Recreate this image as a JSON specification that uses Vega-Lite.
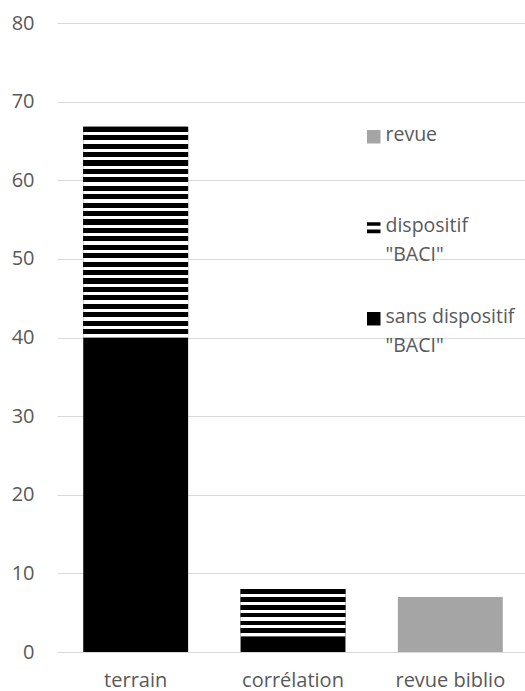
{
  "$schema": "https://vega.github.io/schema/vega-lite/v6.json",
  "autosize": {"type": "none"},
  "padding": {"left": 57, "top": 23, "right": 0, "bottom": 39},
  "width": 472,
  "height": 629,
  "data": {
    "values": [
      {"cat": "terrain", "type": "sans dispositif \"BACI\"", "value": 40},
      {"cat": "terrain", "type": "dispositif \"BACI\"", "value": 26.8},
      {"cat": "corrélation", "type": "sans dispositif \"BACI\"", "value": 2},
      {"cat": "corrélation", "type": "dispositif \"BACI\"", "value": 6},
      {"cat": "revue biblio", "type": "revue", "value": 7}
    ]
  },
  "transform": [
    {"stack": "value", "groupby": ["cat"], "sort": [{"field": "type", "order": "descending"}], "as": ["v0", "v1"]}
  ],
  "encoding": {
    "x": {
      "field": "cat", "type": "nominal",
      "sort": ["terrain", "corrélation", "revue biblio"],
      "scale": {"paddingInner": 0.3333, "paddingOuter": 0.1667},
      "axis": {"title": null, "labelAngle": 0, "ticks": false, "domain": true, "domainColor": "#d9d9d9", "labelPadding": 18, "labelFont": "Open Sans", "labelFontSize": 20, "labelColor": "#595959"}
    },
    "y": {
      "field": "v1", "type": "quantitative",
      "scale": {"domain": [0, 80], "nice": false},
      "axis": {"title": null, "values": [0, 10, 20, 30, 40, 50, 60, 70, 80], "ticks": false, "domain": false, "gridColor": "#d9d9d9", "labelPadding": 23, "labelFont": "Open Sans", "labelFontSize": 20, "labelColor": "#595959"}
    },
    "y2": {"field": "v0"}
  },
  "layer": [
    {
      "mark": {"type": "bar"},
      "encoding": {
        "color": {
          "field": "type", "type": "nominal",
          "scale": {"domain": ["revue", "dispositif \"BACI\"", "sans dispositif \"BACI\""], "range": ["#a5a5a5", "#000000", "#000000"]},
          "legend": {
            "title": null,
            "orient": "none",
            "legendX": 307,
            "legendY": 104,
            "padding": 0,
            "symbolSize": 182,
            "symbolStrokeWidth": 0,
            "labelFont": "Open Sans",
            "labelFontSize": 19.5,
            "labelColor": "#595959",
            "labelOffset": 2,
            "labelLimit": 300,
            "labelBaseline": "top",
            "gridAlign": "all",
            "rowPadding": 41,
            "labelExpr": "indexof(datum.label, 'BACI') > 0 ? [slice(datum.label, 0, lastindexof(datum.label, ' ')), slice(datum.label, lastindexof(datum.label, ' ') + 1)] : datum.label",
            "encode": {
              "symbols": {"update": {"shape": {"signal": "datum.value === 'dispositif \"BACI\"' ? 'M-1,-0.8H1V-0.3H-1Z M-1,0.25H1V0.8H-1Z' : 'square'"}}},
              "labels": {"update": {"dy": {"value": -11}, "lineHeight": {"value": 29}}}
            }
          }
        }
      }
    },
    {
      "transform": [{"filter": "datum.cat === 'terrain' && datum.type === 'dispositif \"BACI\"'"}],
      "mark": {
        "type": "bar",
        "fill": {
          "gradient": "linear", "x1": 0, "y1": 0, "x2": 0, "y2": 1,
          "stops": [
            {"offset": 0, "color": "#000000"}, {"offset": 0.024, "color": "#000000"}, {"offset": 0.024, "color": "#ffffff"}, {"offset": 0.04, "color": "#ffffff"},
            {"offset": 0.04, "color": "#000000"}, {"offset": 0.064, "color": "#000000"}, {"offset": 0.064, "color": "#ffffff"}, {"offset": 0.08, "color": "#ffffff"},
            {"offset": 0.08, "color": "#000000"}, {"offset": 0.104, "color": "#000000"}, {"offset": 0.104, "color": "#ffffff"}, {"offset": 0.12, "color": "#ffffff"},
            {"offset": 0.12, "color": "#000000"}, {"offset": 0.144, "color": "#000000"}, {"offset": 0.144, "color": "#ffffff"}, {"offset": 0.16, "color": "#ffffff"},
            {"offset": 0.16, "color": "#000000"}, {"offset": 0.184, "color": "#000000"}, {"offset": 0.184, "color": "#ffffff"}, {"offset": 0.2, "color": "#ffffff"},
            {"offset": 0.2, "color": "#000000"}, {"offset": 0.224, "color": "#000000"}, {"offset": 0.224, "color": "#ffffff"}, {"offset": 0.24, "color": "#ffffff"},
            {"offset": 0.24, "color": "#000000"}, {"offset": 0.264, "color": "#000000"}, {"offset": 0.264, "color": "#ffffff"}, {"offset": 0.28, "color": "#ffffff"},
            {"offset": 0.28, "color": "#000000"}, {"offset": 0.304, "color": "#000000"}, {"offset": 0.304, "color": "#ffffff"}, {"offset": 0.32, "color": "#ffffff"},
            {"offset": 0.32, "color": "#000000"}, {"offset": 0.344, "color": "#000000"}, {"offset": 0.344, "color": "#ffffff"}, {"offset": 0.36, "color": "#ffffff"},
            {"offset": 0.36, "color": "#000000"}, {"offset": 0.384, "color": "#000000"}, {"offset": 0.384, "color": "#ffffff"}, {"offset": 0.4, "color": "#ffffff"},
            {"offset": 0.4, "color": "#000000"}, {"offset": 0.424, "color": "#000000"}, {"offset": 0.424, "color": "#ffffff"}, {"offset": 0.44, "color": "#ffffff"},
            {"offset": 0.44, "color": "#000000"}, {"offset": 0.464, "color": "#000000"}, {"offset": 0.464, "color": "#ffffff"}, {"offset": 0.48, "color": "#ffffff"},
            {"offset": 0.48, "color": "#000000"}, {"offset": 0.504, "color": "#000000"}, {"offset": 0.504, "color": "#ffffff"}, {"offset": 0.52, "color": "#ffffff"},
            {"offset": 0.52, "color": "#000000"}, {"offset": 0.544, "color": "#000000"}, {"offset": 0.544, "color": "#ffffff"}, {"offset": 0.56, "color": "#ffffff"},
            {"offset": 0.56, "color": "#000000"}, {"offset": 0.584, "color": "#000000"}, {"offset": 0.584, "color": "#ffffff"}, {"offset": 0.6, "color": "#ffffff"},
            {"offset": 0.6, "color": "#000000"}, {"offset": 0.624, "color": "#000000"}, {"offset": 0.624, "color": "#ffffff"}, {"offset": 0.64, "color": "#ffffff"},
            {"offset": 0.64, "color": "#000000"}, {"offset": 0.664, "color": "#000000"}, {"offset": 0.664, "color": "#ffffff"}, {"offset": 0.68, "color": "#ffffff"},
            {"offset": 0.68, "color": "#000000"}, {"offset": 0.704, "color": "#000000"}, {"offset": 0.704, "color": "#ffffff"}, {"offset": 0.72, "color": "#ffffff"},
            {"offset": 0.72, "color": "#000000"}, {"offset": 0.744, "color": "#000000"}, {"offset": 0.744, "color": "#ffffff"}, {"offset": 0.76, "color": "#ffffff"},
            {"offset": 0.76, "color": "#000000"}, {"offset": 0.784, "color": "#000000"}, {"offset": 0.784, "color": "#ffffff"}, {"offset": 0.8, "color": "#ffffff"},
            {"offset": 0.8, "color": "#000000"}, {"offset": 0.824, "color": "#000000"}, {"offset": 0.824, "color": "#ffffff"}, {"offset": 0.84, "color": "#ffffff"},
            {"offset": 0.84, "color": "#000000"}, {"offset": 0.864, "color": "#000000"}, {"offset": 0.864, "color": "#ffffff"}, {"offset": 0.88, "color": "#ffffff"},
            {"offset": 0.88, "color": "#000000"}, {"offset": 0.904, "color": "#000000"}, {"offset": 0.904, "color": "#ffffff"}, {"offset": 0.92, "color": "#ffffff"},
            {"offset": 0.92, "color": "#000000"}, {"offset": 0.944, "color": "#000000"}, {"offset": 0.944, "color": "#ffffff"}, {"offset": 0.96, "color": "#ffffff"},
            {"offset": 0.96, "color": "#000000"}, {"offset": 0.984, "color": "#000000"}, {"offset": 0.984, "color": "#ffffff"}, {"offset": 1, "color": "#ffffff"}
          ]
        }
      }
    },
    {
      "transform": [{"filter": "datum.cat === 'corrélation' && datum.type === 'dispositif \"BACI\"'"}],
      "mark": {
        "type": "bar",
        "fill": {
          "gradient": "linear", "x1": 0, "y1": 0, "x2": 0, "y2": 1,
          "stops": [
            {"offset": 0, "color": "#000000"}, {"offset": 0.1, "color": "#000000"}, {"offset": 0.1, "color": "#ffffff"}, {"offset": 0.1667, "color": "#ffffff"},
            {"offset": 0.1667, "color": "#000000"}, {"offset": 0.2667, "color": "#000000"}, {"offset": 0.2667, "color": "#ffffff"}, {"offset": 0.3333, "color": "#ffffff"},
            {"offset": 0.3333, "color": "#000000"}, {"offset": 0.4333, "color": "#000000"}, {"offset": 0.4333, "color": "#ffffff"}, {"offset": 0.5, "color": "#ffffff"},
            {"offset": 0.5, "color": "#000000"}, {"offset": 0.6, "color": "#000000"}, {"offset": 0.6, "color": "#ffffff"}, {"offset": 0.6667, "color": "#ffffff"},
            {"offset": 0.6667, "color": "#000000"}, {"offset": 0.7667, "color": "#000000"}, {"offset": 0.7667, "color": "#ffffff"}, {"offset": 0.8333, "color": "#ffffff"},
            {"offset": 0.8333, "color": "#000000"}, {"offset": 0.9333, "color": "#000000"}, {"offset": 0.9333, "color": "#ffffff"}, {"offset": 1, "color": "#ffffff"}
          ]
        }
      }
    }
  ],
  "config": {"view": {"stroke": null}, "background": "#ffffff"}
}
